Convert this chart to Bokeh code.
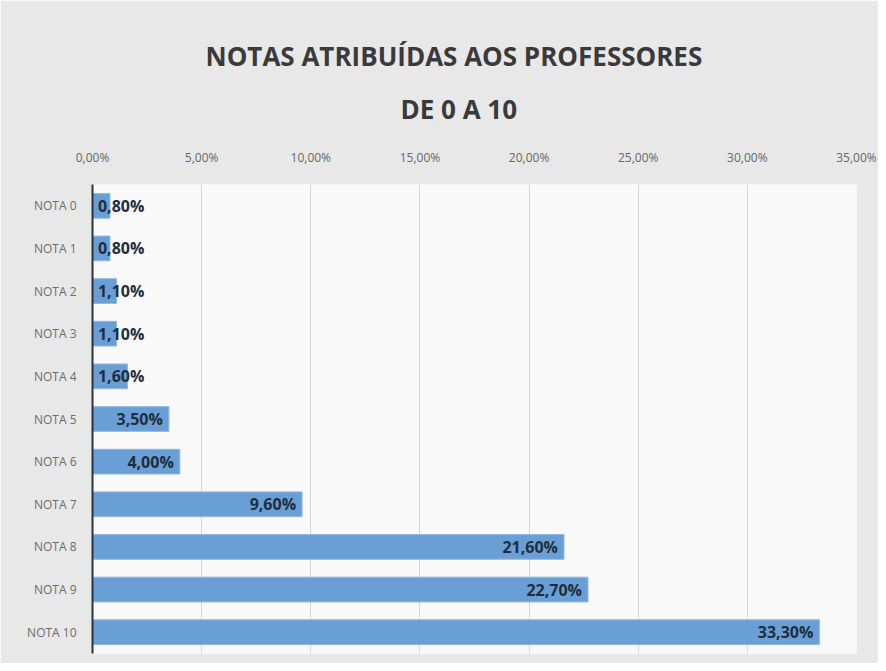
from bokeh.plotting import figure
from bokeh.models import FactorRange, Range1d, FixedTicker, ColumnDataSource, Title
from bokeh.core.properties import value
from bokeh.embed import file_html
from bokeh.resources import INLINE

categories = ["NOTA 0", "NOTA 1", "NOTA 2", "NOTA 3", "NOTA 4", "NOTA 5",
              "NOTA 6", "NOTA 7", "NOTA 8", "NOTA 9", "NOTA 10"]
percentages = [0.80, 0.80, 1.10, 1.10, 1.60, 3.50, 4.00, 9.60, 21.60, 22.70, 33.30]
value_labels = ["0,80%", "0,80%", "1,10%", "1,10%", "1,60%", "3,50%",
                "4,00%", "9,60%", "21,60%", "22,70%", "33,30%"]
tick_values = [0, 5, 10, 15, 20, 25, 30, 35]
tick_labels = ["0,00%", "5,00%", "10,00%", "15,00%", "20,00%", "25,00%", "30,00%", "35,00%"]
title_line1 = "NOTAS ATRIBUÍDAS AOS PROFESSORES"
title_line2 = "DE 0 A 10"

FONT = "Open Sans"
min_label_end = 2.65
label_x = [max(v, min_label_end) for v in percentages]

src = ColumnDataSource(dict(cat=categories, val=percentages, lx=label_x, txt=value_labels))

p = figure(width=878, height=663, output_backend="svg", toolbar_location=None,
           y_range=FactorRange(*reversed(categories)), x_range=Range1d(0, 35),
           x_axis_location="above", min_border_left=92, min_border_right=22,
           min_border_bottom=10, min_border_top=184)

t2 = Title(text=title_line2, align="left", text_font=FONT, text_font_size="26px",
           text_font_style="bold", text_color="#3a3a3a", standoff=38, offset=308)
t1 = Title(text=title_line1, align="left", text_font=FONT, text_font_size="26px",
           text_font_style="bold", text_color="#3a3a3a", standoff=-9, offset=113)
p.add_layout(t2, "above")
p.add_layout(t1, "above")

p.hbar(y="cat", right="val", left=0, height=0.58, source=src,
       fill_color="#6a9fd6", line_color="#8fb8e4", line_width=1)

p.text(x="lx", y="cat", text="txt", source=src, text_align="right",
       text_baseline="middle", x_offset=-6, text_font=value(FONT),
       text_font_size="16px", text_font_style="bold", text_color="#1f2d3d")

p.background_fill_color = "#f9f9f9"
p.border_fill_color = "#e8e8e8"
p.outline_line_color = None

xa = p.xaxis[0]
xa.ticker = FixedTicker(ticks=tick_values)
xa.major_label_overrides = {t: l for t, l in zip(tick_values, tick_labels)}
xa.axis_line_color = None
xa.major_tick_line_color = None
xa.minor_tick_line_color = None
xa.major_label_text_font = FONT
xa.major_label_text_font_size = "12px"
xa.major_label_text_color = "#666666"
xa.major_label_standoff = 13

ya = p.yaxis[0]
ya.axis_line_color = "#2b3340"
ya.axis_line_width = 2
ya.major_tick_line_color = None
ya.minor_tick_line_color = None
ya.major_label_text_font = FONT
ya.major_label_text_font_size = "12px"
ya.major_label_text_color = "#6b6b6b"
ya.major_label_standoff = 10

p.xgrid.grid_line_color = "#d6d6d6"
p.xgrid.grid_line_width = 1
p.ygrid.grid_line_color = None
p.y_range.range_padding = 0

open("out.html", "w").write(file_html(p, INLINE))
